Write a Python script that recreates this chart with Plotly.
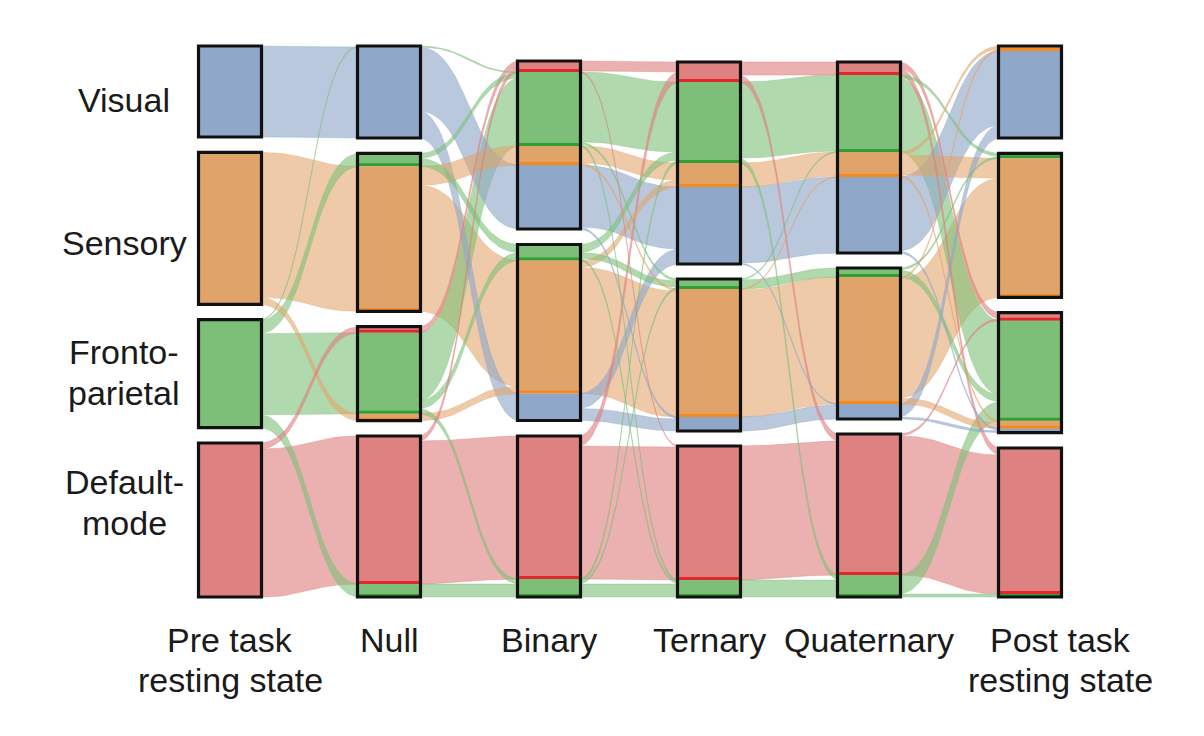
import plotly.graph_objects as go
import numpy as np

# ---------------- data ----------------
column_labels = [["Pre task", "resting state"], ["Null"], ["Binary"], ["Ternary"],
                 ["Quaternary"], ["Post task", "resting state"]]
row_labels = [["Visual"], ["Sensory"], ["Fronto-", "parietal"], ["Default-", "mode"]]
identities = ["DMN", "FP", "SEN", "VIS"]          # stacking order inside a module (top->bottom)
nodes_per_column = [4, 4, 3, 3, 3, 4]

# flows: (identity, source module, target module, size)
flows_pre_null = [
    ("VIS", 0, 0, 91),
    ("SEN", 1, 1, 145), ("SEN", 1, 2, 7),
    ("FP", 2, 0, 1), ("FP", 2, 1, 13), ("FP", 2, 2, 81), ("FP", 2, 3, 13),
    ("DMN", 3, 2, 6), ("DMN", 3, 3, 148),
]
flows_null_binary = [
    ("VIS", 0, 0, 64), ("VIS", 0, 1, 27),
    ("SEN", 1, 0, 19), ("SEN", 1, 1, 126), ("SEN", 2, 1, 7),
    ("FP", 0, 0, 1), ("FP", 1, 0, 5), ("FP", 1, 1, 8), ("FP", 2, 0, 68),
    ("FP", 2, 1, 8), ("FP", 2, 2, 5), ("FP", 3, 2, 13),
    ("DMN", 2, 0, 6), ("DMN", 3, 0, 5), ("DMN", 3, 2, 143),
]
flows_binary_ternary = [
    ("VIS", 0, 0, 62), ("VIS", 0, 1, 2), ("VIS", 1, 0, 15), ("VIS", 1, 1, 12),
    ("SEN", 0, 0, 17), ("SEN", 0, 1, 2), ("SEN", 1, 0, 7), ("SEN", 1, 1, 126),
    ("FP", 0, 0, 70), ("FP", 0, 1, 2), ("FP", 0, 2, 2), ("FP", 1, 0, 8), ("FP", 1, 1, 6),
    ("FP", 1, 2, 2), ("FP", 2, 0, 3), ("FP", 2, 1, 2), ("FP", 2, 2, 13),
    ("DMN", 0, 0, 10), ("DMN", 0, 2, 1), ("DMN", 2, 0, 10), ("DMN", 2, 2, 133),
]
flows_ternary_quaternary = [
    ("VIS", 0, 0, 76), ("VIS", 0, 1, 1), ("VIS", 1, 1, 14),
    ("SEN", 0, 0, 24), ("SEN", 1, 0, 1), ("SEN", 1, 1, 127),
    ("FP", 0, 0, 76), ("FP", 0, 2, 5), ("FP", 1, 0, 1), ("FP", 1, 1, 9), ("FP", 2, 2, 17),
    ("DMN", 0, 0, 13), ("DMN", 0, 2, 7), ("DMN", 2, 2, 134),
]
flows_quaternary_post = [
    ("VIS", 0, 0, 74), ("VIS", 0, 2, 2), ("VIS", 1, 0, 13), ("VIS", 1, 2, 2),
    ("SEN", 0, 0, 3), ("SEN", 0, 1, 20), ("SEN", 0, 2, 2), ("SEN", 1, 0, 2),
    ("SEN", 1, 1, 119), ("SEN", 1, 2, 6),
    ("FP", 0, 1, 3), ("FP", 0, 2, 74), ("FP", 1, 1, 2), ("FP", 1, 2, 7),
    ("FP", 2, 2, 19), ("FP", 2, 3, 3),
    ("DMN", 0, 2, 6), ("DMN", 0, 3, 7), ("DMN", 2, 2, 2), ("DMN", 2, 3, 139),
]
transitions = [flows_pre_null, flows_null_binary, flows_binary_ternary,
               flows_ternary_quaternary, flows_quaternary_post]

# ---------------- style / layout ----------------
node_fill = {"VIS": "#8FA7C9", "SEN": "#E0A46B", "FP": "#7DBF78", "DMN": "#DE8181"}
node_line = {"VIS": "#8FA7C9", "SEN": "#F58A1E", "FP": "#2E9E35", "DMN": "#E2262C"}
flow_fill = {"VIS": "rgba(143,167,201,0.62)", "SEN": "rgba(226,163,105,0.58)",
             "FP": "rgba(125,191,120,0.60)", "DMN": "rgba(222,128,128,0.62)"}
col_x = [230, 389, 549, 709, 869, 1030]
col_top = [46, 46, 61, 62, 62, 46]
col_bottom = 597
node_w = 63
unit_px = 1.0
label_x = [230, 389, 549, 709, 869, 1060]
row_label_y = [[100], [243], [352, 393], [482, 523]]
FONT = "Liberation Sans, Arial, Helvetica, sans-serif"
FONT_SIZE = 34

# ---------------- composition ----------------
ncol = len(nodes_per_column)
comp = [[{k: 0.0 for k in identities} for _ in range(n)] for n in nodes_per_column]
for t, fl in enumerate(transitions):
    for ident, s, d, v in fl:
        if t == 0:
            comp[0][s][ident] += v
        comp[t + 1][d][ident] += v

seg_top = {}
node_box = {}
for c in range(ncol):
    sizes = [sum(comp[c][n].values()) * unit_px for n in range(nodes_per_column[c])]
    gap = (col_bottom - col_top[c] - sum(sizes)) / (nodes_per_column[c] - 1)
    y = col_top[c]
    for n in range(nodes_per_column[c]):
        node_box[(c, n)] = (y, y + sizes[n])
        yy = y
        for ident in identities:
            h = comp[c][n][ident] * unit_px
            seg_top[(c, n, ident)] = (yy, h)
            yy += h
        y += sizes[n] + gap

fig = go.Figure()

# ---------------- flows ----------------
ribbons = []
for t, fl in enumerate(transitions):
    out_cur = {}
    in_cur = {}
    for ident, s, d, v in sorted(fl, key=lambda f: (f[1], identities.index(f[0]), f[2])):
        key = (t, s, ident)
        base = seg_top[key][0]
        off = out_cur.get(key, 0.0)
        out_cur[key] = off + v * unit_px
        ribbons.append([t, ident, s, d, v, (base + off, base + off + v * unit_px), None])
    for r in sorted([r for r in ribbons if r[0] == t], key=lambda r: (r[3], identities.index(r[1]), r[2])):
        key = (t + 1, r[3], r[1])
        base = seg_top[key][0]
        off = in_cur.get(key, 0.0)
        in_cur[key] = off + r[4] * unit_px
        r[6] = (base + off, base + off + r[4] * unit_px)

tt = np.linspace(0, 1, 40)
def bez(x0, y0, x1, y1):
    xm = (x0 + x1) / 2
    bx = (1 - tt) ** 3 * x0 + 3 * (1 - tt) ** 2 * tt * xm + 3 * (1 - tt) * tt ** 2 * xm + tt ** 3 * x1
    by = (1 - tt) ** 3 * y0 + 3 * (1 - tt) ** 2 * tt * y0 + 3 * (1 - tt) * tt ** 2 * y1 + tt ** 3 * y1
    return bx, by

for r in sorted(ribbons, key=lambda r: -r[4]):
    t, ident, s, d, v, src, dst = r
    x0 = col_x[t] + node_w / 2 - 2
    x1 = col_x[t + 1] - node_w / 2 + 2
    tx, ty = bez(x0, src[0], x1, dst[0])
    bx, by = bez(x1, dst[1], x0, src[1])
    fig.add_trace(go.Scatter(
        x=np.concatenate([tx, bx, [tx[0]]]), y=np.concatenate([ty, by, [ty[0]]]),
        mode="lines", fill="toself", fillcolor=flow_fill[ident],
        line=dict(width=0.6, color=flow_fill[ident]), hoverinfo="skip", showlegend=False))

# ---------------- nodes ----------------
shapes = []
for (c, n, ident), (y0, h) in seg_top.items():
    if h <= 0:
        continue
    x0 = col_x[c] - node_w / 2
    x1 = col_x[c] + node_w / 2
    shapes.append(dict(type="rect", xref="x", yref="y", x0=x0, x1=x1, y0=y0, y1=y0 + h,
                       fillcolor=node_fill[ident], line=dict(width=0), layer="above"))
    if c > 0:
        lh = min(3.0, max(h, 1.5))
        shapes.append(dict(type="rect", xref="x", yref="y", x0=x0, x1=x1, y0=y0 + h - lh, y1=y0 + h,
                           fillcolor=node_line[ident], line=dict(width=0), layer="above"))
for (c, n), (y0, y1) in node_box.items():
    shapes.append(dict(type="rect", xref="x", yref="y",
                       x0=col_x[c] - node_w / 2, x1=col_x[c] + node_w / 2, y0=y0, y1=y1,
                       fillcolor="rgba(0,0,0,0)", line=dict(width=3.2, color="#111111"), layer="above"))

# ---------------- labels ----------------
annotations = []
for n, lines in enumerate(row_labels):
    for i, txt in enumerate(lines):
        annotations.append(dict(x=124, y=row_label_y[n][i], xref="x", yref="y", text=txt,
                                showarrow=False, xanchor="center", yanchor="middle",
                                font=dict(family=FONT, size=FONT_SIZE, color="#1a1a1a")))
for c, lines in enumerate(column_labels):
    for i, txt in enumerate(lines):
        annotations.append(dict(x=label_x[c], y=640 + i * 40, xref="x", yref="y", text=txt,
                                showarrow=False, xanchor="center", yanchor="middle",
                                font=dict(family=FONT, size=FONT_SIZE, color="#1a1a1a")))

fig.update_layout(
    width=1204, height=736, margin=dict(l=0, r=0, t=0, b=0),
    paper_bgcolor="white", plot_bgcolor="white",
    xaxis=dict(range=[0, 1204], visible=False, fixedrange=True),
    yaxis=dict(range=[736, 0], visible=False, fixedrange=True),
    shapes=shapes, annotations=annotations, showlegend=False,
)
fig.write_html("out.html", config={"displayModeBar": False},
               post_script="document.body.style.margin='0px';")
